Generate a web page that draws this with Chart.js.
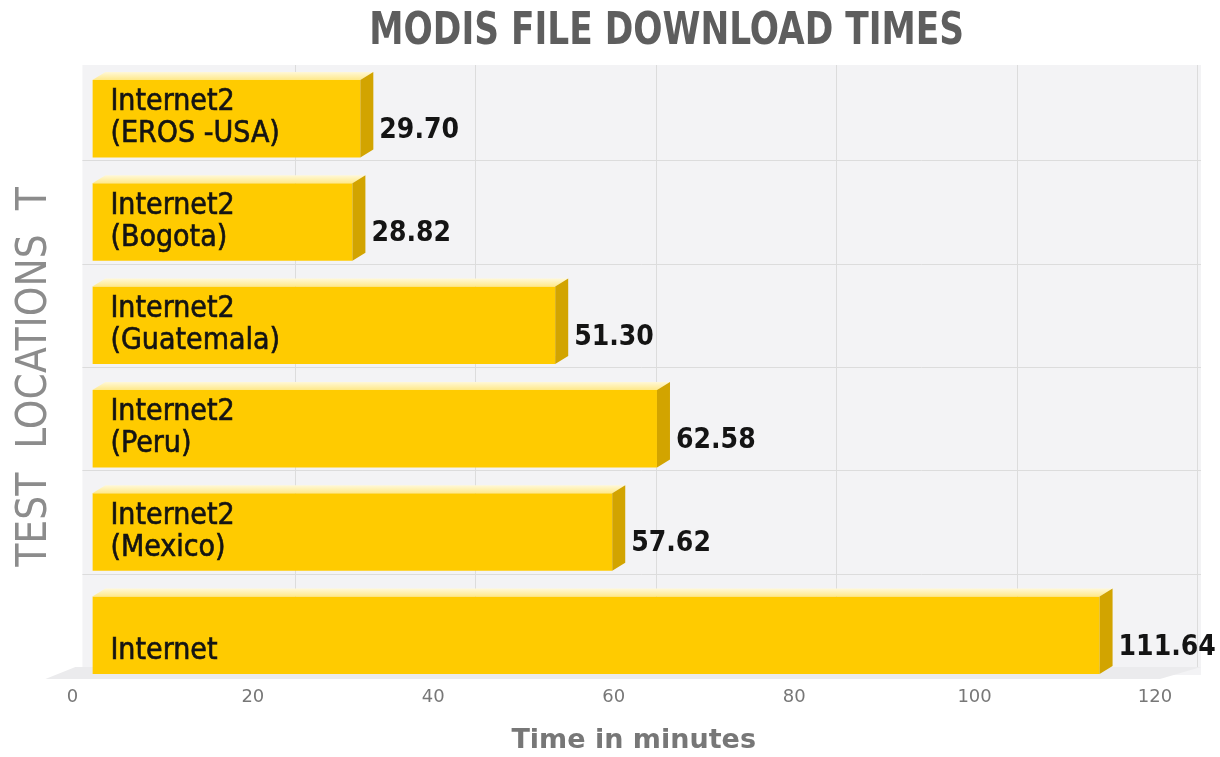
<!DOCTYPE html>
<html>
<head>
<meta charset="utf-8">
<script src="https://cdn.jsdelivr.net/npm/chart.js@4/dist/chart.umd.min.js"></script>
<style>
  html, body { margin: 0; padding: 0; background: #fff; }
</style>
</head>
<body>
<canvas id="myChart" width="1220" height="757"></canvas>
<script>
// data
const chartTitle = 'MODIS FILE DOWNLOAD TIMES';
const locations = [
    ['Internet2', '(EROS -USA)'],
    ['Internet2', '(Bogota)'],
    ['Internet2', '(Guatemala)'],
    ['Internet2', '(Peru)'],
    ['Internet2', '(Mexico)'],
    ['Internet']
];
const downloadMinutes = [29.70, 28.82, 51.30, 62.58, 57.62, 111.64];
const timeTicks = [0, 20, 40, 60, 80, 100, 120];

// fake 3d look
const depthX = 13, depthY = 8;
const wallX = 22, wallY = 10;

const fakeDepth = {
    id: 'fakeDepth',
    beforeDatasetsDraw(chart) {
        const ctx = chart.ctx;
        const a = chart.chartArea;
        const xs = chart.scales.x, ys = chart.scales.y;
        ctx.save();
        // back wall
        ctx.fillStyle = '#f3f3f5';
        ctx.fillRect(a.left - 10, a.top - 2, a.right + wallX + 14 - a.left, a.bottom - a.top - wallY);
        // floor
        ctx.fillStyle = '#ebebed';
        ctx.beginPath();
        ctx.moveTo(a.left - 47, a.bottom - 8);
        ctx.lineTo(a.right - 15, a.bottom - 8);
        ctx.lineTo(a.right + wallX + 4, a.bottom - wallY - 10);
        ctx.lineTo(a.left - 17, a.bottom - wallY - 10);
        ctx.closePath();
        ctx.fill();
        // grid on the back wall
        ctx.strokeStyle = '#dcdcdc';
        ctx.lineWidth = 1;
        for (const v of timeTicks) {
            if (v === 0) continue;
            const x = Math.round(xs.getPixelForValue(v) + wallX) + 0.5;
            ctx.beginPath();
            ctx.moveTo(x, a.top - 2);
            ctx.lineTo(x, a.bottom - wallY - 10);
            ctx.stroke();
        }
        for (let i = 0; i < locations.length - 1; i++) {
            const y = Math.round((ys.getPixelForValue(i) + ys.getPixelForValue(i + 1)) / 2 - wallY) + 0.5;
            ctx.beginPath();
            ctx.moveTo(a.left - 10, y);
            ctx.lineTo(a.right + wallX + 4, y);
            ctx.stroke();
        }
        ctx.restore();
    },
    afterDatasetsDraw(chart) {
        const ctx = chart.ctx;
        const meta = chart.getDatasetMeta(0);
        ctx.save();
        meta.data.forEach((bar, i) => {
            const top = bar.y - bar.height / 2;
            const bottom = bar.y + bar.height / 2;
            const start = bar.base, end = bar.x;
            // top face
            const g = ctx.createLinearGradient(0, top - depthY, 0, top);
            g.addColorStop(0, '#fff8d8');
            g.addColorStop(1, '#ffe98a');
            ctx.fillStyle = g;
            ctx.beginPath();
            ctx.moveTo(start, top);
            ctx.lineTo(end, top);
            ctx.lineTo(end + depthX, top - depthY);
            ctx.lineTo(start + depthX, top - depthY);
            ctx.closePath();
            ctx.fill();
            // side face
            ctx.fillStyle = '#d2a400';
            ctx.beginPath();
            ctx.moveTo(end, top);
            ctx.lineTo(end + depthX, top - depthY);
            ctx.lineTo(end + depthX, bottom - depthY);
            ctx.lineTo(end, bottom);
            ctx.closePath();
            ctx.fill();

            // category text inside the bar
            const lines = chart.data.labels[i];
            ctx.fillStyle = '#141414';
            ctx.strokeStyle = '#141414';
            ctx.lineWidth = 0.6;
            ctx.font = '30px "DejaVu Sans Condensed", "DejaVu Sans", sans-serif';
            ctx.textAlign = 'left';
            ctx.textBaseline = 'middle';
            for (let k = 0; k < lines.length; k++) {
                const off = 16 - (lines.length - 1 - k) * 32;
                ctx.fillText(lines[k], start + 18, bar.y + off);
                ctx.strokeText(lines[k], start + 18, bar.y + off);
            }

            // value
            ctx.font = 'bold 28px "DejaVu Sans Condensed", "DejaVu Sans", sans-serif';
            ctx.fillText(downloadMinutes[i].toFixed(2), end + depthX + 6, bar.y + 12);
        });
        ctx.restore();
    },
    afterDraw(chart) {
        // narrow title, like the original
        const ctx = chart.ctx;
        const a = chart.chartArea;
        ctx.save();
        ctx.font = 'bold 45px "DejaVu Sans Condensed", "DejaVu Sans", sans-serif';
        ctx.fillStyle = '#5e5e5e';
        ctx.textAlign = 'center';
        ctx.textBaseline = 'middle';
        ctx.translate((a.left + a.right) / 2 + 33, 32);
        ctx.scale(0.85, 1);
        ctx.fillText(chartTitle, 0, 0);
        ctx.restore();
    }
};

const ctx = document.getElementById('myChart');
new Chart(ctx, {
    type: 'bar',
    data: {
        labels: locations,
        datasets: [{
            data: downloadMinutes,
            backgroundColor: '#ffcb00',
            borderWidth: 0,
            barPercentage: 0.75,
            categoryPercentage: 1.0
        }]
    },
    options: {
        indexAxis: 'y',
        responsive: false,
        animation: false,
        devicePixelRatio: 1,
        layout: {
            padding: { left: 5, right: 45, top: 67, bottom: 0 }
        },
        plugins: {
            legend: { display: false },
            tooltip: { enabled: false },
            title: { display: false }
        },
        scales: {
            x: {
                min: 0,
                max: 120,
                afterBuildTicks(scale) {
                    scale.ticks = timeTicks.map(v => ({ value: v }));
                },
                grid: { display: false, drawTicks: false },
                border: { display: false },
                ticks: {
                    color: '#777',
                    padding: 0,
                    labelOffset: -20,
                    font: { family: '"DejaVu Sans", sans-serif', size: 18 }
                },
                title: {
                    display: true,
                    text: 'Time in minutes',
                    color: '#777',
                    font: { family: '"DejaVu Sans", sans-serif', size: 27, weight: 'bold' },
                    padding: { top: 16, bottom: 0 }
                }
            },
            y: {
                grid: { display: false, drawTicks: false },
                border: { display: false },
                ticks: { display: false },
                title: {
                    display: true,
                    text: 'TEST  LOCATIONS  T',
                    color: '#8c8c8c',
                    font: { family: '"DejaVu Sans Condensed", "DejaVu Sans", sans-serif', size: 42 },
                    padding: { top: 5, bottom: 32 }
                }
            }
        }
    },
    plugins: [fakeDepth]
});
</script>
</body>
</html>
